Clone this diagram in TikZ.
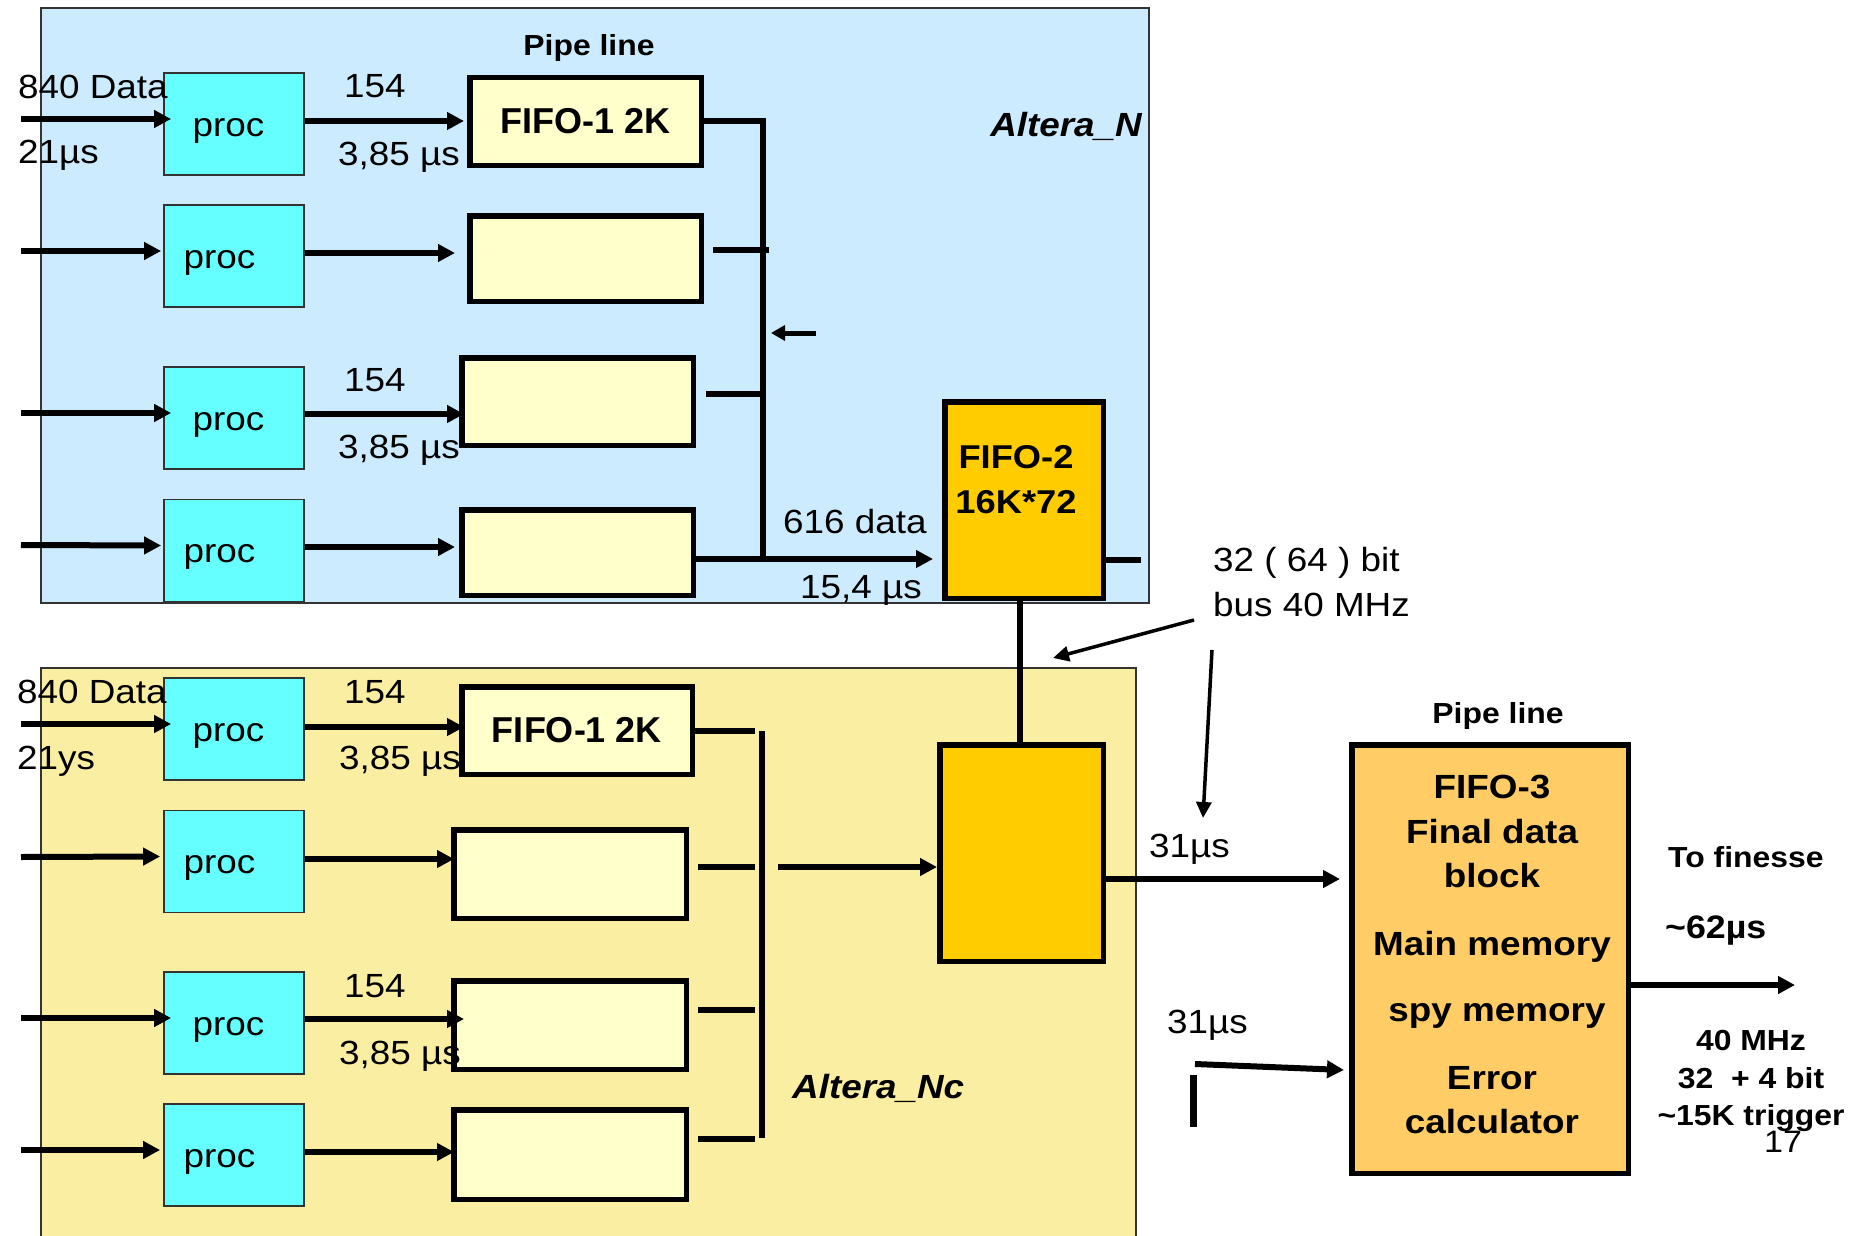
\documentclass[tikz,border=0pt]{standalone}
\usepackage{fontspec}
\setmainfont{Liberation Sans}[FakeStretch=1.1]
\newfontfamily\narrowfont{Liberation Sans}
\usetikzlibrary{arrows.meta,calc}
\definecolor{panelNcol}{HTML}{CCEBFF}
\definecolor{panelNccol}{HTML}{FAEEA2}
\definecolor{proccol}{HTML}{66FFFF}
\definecolor{fifoonecol}{HTML}{FFFFCC}
\definecolor{fifotwocol}{HTML}{FFCC00}
\definecolor{fifothreecol}{HTML}{FFCC66}
\definecolor{edgecol}{HTML}{333333}
\newcommand{\myfs}[1]{\fontsize{#1}{#1}\selectfont}
\begin{document}
\begin{tikzpicture}[x=1pt,y=-1pt,
  panelbox/.style={draw=edgecol,line width=1.8pt,inner sep=0pt},
  procbox/.style={draw=edgecol,line width=1.8pt,fill=proccol,minimum width=140pt,minimum height=102pt,inner sep=0pt,text height=30pt,text depth=6pt,font=\myfs{33.5}},
  fifobox/.style={draw=black,line width=5.5pt,fill=fifoonecol,inner sep=0pt,font=\narrowfont\bfseries\myfs{36}},
  fifotwo/.style={draw=black,line width=5.5pt,fill=fifotwocol,inner sep=0pt},
  fifothree/.style={draw=black,line width=5.5pt,fill=fifothreecol,inner sep=0pt},
  lbl/.style={inner sep=0pt,anchor=base west,font=\myfs{33.5}},
  blbl/.style={inner sep=0pt,font=\bfseries\myfs{29}},
  bilbl/.style={inner sep=0pt,font=\bfseries\itshape\myfs{33.5}},
  arr/.style={line width=6pt,-{Triangle[length=17pt,width=17pt]}},
  thinarr/.style={line width=3.5pt,-{Triangle[length=16pt,width=15pt]}},
  smallarr/.style={line width=5pt,-{Triangle[length=14pt,width=15pt]}},
  busline/.style={line width=6pt},
  lbus/.style={line width=6pt}
]
\fill[white] (0,0) rectangle (1863,1236);
\useasboundingbox (0,0) rectangle (1863,1236);

% panels
\node[panelbox,fill=panelNcol,minimum width=1108pt,minimum height=595pt] (PN) at (595,305.5) {};
\node[panelbox,fill=panelNccol,minimum width=1095pt,minimum height=600pt] (PNc) at (588.5,968) {};

% upper proc boxes
\node[procbox] (p1) at (234,124) {proc\kern11pt};
\node[procbox] (p2) at (234,256) {proc\kern29pt};
\node[procbox] (p3) at (234,418) {proc\kern11pt};
\node[procbox] (p4) at (234,550.5) {proc\kern29pt};
% lower proc boxes
\node[procbox] (q1) at (234,729) {proc\kern11pt};
\node[procbox] (q2) at (234,861.5) {proc\kern29pt};
\node[procbox] (q3) at (234,1023) {proc\kern11pt};
\node[procbox] (q4) at (234,1155) {proc\kern29pt};

% upper FIFO-1 boxes
\node[fifobox,minimum width=231.5pt,minimum height=87.5pt] (f1) at (585.5,121.5) {FIFO-1 2K};
\node[fifobox,minimum width=231.5pt,minimum height=85.5pt] (f2) at (585.5,258.5) {};
\node[fifobox,minimum width=231.5pt,minimum height=87.5pt] (f3) at (577.5,401.5) {};
\node[fifobox,minimum width=231.5pt,minimum height=85.5pt] (f4) at (577.5,552.5) {};
% lower FIFO-1 boxes
\node[fifobox,minimum width=230.5pt,minimum height=87.5pt] (g1) at (577,730.5) {FIFO-1 2K};
\node[fifobox,minimum width=232.5pt,minimum height=88.5pt] (g2) at (570,874) {};
\node[fifobox,minimum width=232.5pt,minimum height=88.5pt] (g3) at (570,1025) {};
\node[fifobox,minimum width=232.5pt,minimum height=89.5pt] (g4) at (570,1154.5) {};

% FIFO-2 boxes and FIFO-3
\node[fifotwo,minimum width=158.5pt,minimum height=196.5pt] (F2) at (1024,500) {};
\node[fifotwo,minimum width=163.5pt,minimum height=216.5pt] (G) at (1021.5,853) {};
\node[fifothree,minimum width=276.5pt,minimum height=428.5pt] (F3) at (1490,959) {};

% coordinates
\coordinate (i1) at (21,119);
\coordinate (i2) at (21,251);
\coordinate (i3) at (21,413);
\coordinate (i4) at (21,545);
\coordinate (j1) at (21,724);
\coordinate (j2) at (21,857);
\coordinate (j3) at (21,1018);
\coordinate (j4) at (21,1150);
\coordinate (bb) at (763,559);
\coordinate (sa1) at (816,333);
\coordinate (sa2) at (771,333);
\coordinate (F2o) at (1141,560);
\coordinate (lbt) at (762,731);
\coordinate (lbb) at (762,1138);
\coordinate (lbs) at (778,867);
\coordinate (bl1) at (1194,620);
\coordinate (bl2) at (1053,658);
\coordinate (bl3) at (1212,650);
\coordinate (bl4) at (1203,818);
\coordinate (vb1) at (1193,1075);
\coordinate (vb2) at (1193,1127);
\coordinate (ta) at (1195,1064);
\coordinate (fo) at (1795,985);

% input arrows
\draw[arr] (i1) -- ($(p1.west)+(8,-5)$);
\draw[arr] (i2) -- ($(p2.west)+(-2,-5)$);
\draw[arr] (i3) -- ($(p3.west)+(8,-5)$);
\draw[arr] (i4) -- ($(p4.west)+(-2,-5)$);
\draw[arr] (j1) -- ($(q1.west)+(8,-5)$);
\draw[arr] (j2) -- ($(q2.west)+(-3,-5)$);
\draw[arr] (j3) -- ($(q3.west)+(8,-5)$);
\draw[arr] (j4) -- ($(q4.west)+(-3,-5)$);

% proc -> FIFO-1
\draw[arr] ($(p1.east)+(0,-3)$) -- ($(p1.east -| f1.west)+(-3,-3)$);
\draw[arr] ($(p2.east)+(0,-3)$) -- ($(p2.east -| f2.west)+(-12,-3)$);
\draw[arr] ($(p3.east)+(0,-4)$) -- ($(p3.east -| f3.west)+(5,-4)$);
\draw[arr] ($(p4.east)+(0,-3.5)$) -- ($(p4.east -| f4.west)+(-4,-3.5)$);
\draw[arr] ($(q1.east)+(0,-2)$) -- ($(q1.east -| g1.west)+(5,-2)$);
\draw[arr] ($(q2.east)+(0,-2.5)$) -- ($(q2.east -| g2.west)+(3,-2.5)$);
\draw[arr] ($(q3.east)+(0,-4)$) -- ($(q3.east -| g3.west)+(13,-4)$);
\draw[arr] ($(q4.east)+(0,-3)$) -- ($(q4.east -| g4.west)+(3,-3)$);

% upper bus
\draw[busline] (f1.east) -| (bb);
\draw[busline] ($(f2.east)+(9,-8.5)$) -- ($(f2.east -| bb)+(6,-8.5)$);
\draw[busline] ($(f3.east)+(10,-8)$) -- ($(f3.east -| bb)+(0,-8)$);
\draw[arr] (f4.east |- bb) -- ($(bb -| F2.west)+(-9,0)$);
\draw[smallarr] (sa1) -- (sa2);
\draw[busline] (F2.east |- F2o) -- (F2o);
\draw[line width=5.5pt] ($(F2.south)+(-4,0)$) -- ($(F2.south |- G.north)+(-4,0)$);

% lower bus
\draw[lbus] (lbt) -- (lbb);
\draw[lbus] (g1.east) -- ($(g1.east -| lbt)+(-7,0)$);
\draw[lbus] ($(g2.east)+(9,-7)$) -- ($(g2.east -| lbt)+(-7,-7)$);
\draw[lbus] ($(g3.east)+(9,-15)$) -- ($(g3.east -| lbt)+(-7,-15)$);
\draw[lbus] ($(g4.east)+(9,-15.5)$) -- ($(g4.east -| lbt)+(-7,-15.5)$);
\draw[arr] (lbs) -- (lbs -| G.west);

% to FIFO-3 and out
\draw[arr] ($(G.east)+(0,26)$) -- ($(G.east -| F3.west)+(-9,26)$);
\draw[thinarr] (bl1) -- (bl2);
\draw[thinarr] (bl3) -- (bl4);
\draw[line width=7pt] (vb1) -- (vb2);
\draw[arr] (ta) -- ($(F3.west)+(-5,111)$);
\draw[arr] ($(F3.east)+(0,26)$) -- (fo);

% text in FIFO-2 and FIFO-3
\node[blbl,anchor=base,font=\bfseries\myfs{33}] (F2ta) at (1016,468) {FIFO-2};
\node[blbl,anchor=base,font=\bfseries\myfs{33}] (F2tb) at (1016,513) {16K*72};
\node[blbl,anchor=base,font=\bfseries\myfs{33.5}] (ft1) at (1492,798) {FIFO-3};
\node[blbl,anchor=base,font=\bfseries\myfs{33.5}] (ft2) at (1492,843) {Final data};
\node[blbl,anchor=base,font=\bfseries\myfs{33.5}] (ft3) at (1492,887) {block};
\node[blbl,anchor=base,font=\bfseries\myfs{33.5}] (ft4) at (1492,955) {Main memory};
\node[blbl,anchor=base,font=\bfseries\myfs{33.5}] (ft5) at (1497,1021) {spy memory};
\node[blbl,anchor=base,font=\bfseries\myfs{33.5}] (ft6) at (1492,1089) {Error};
\node[blbl,anchor=base,font=\bfseries\myfs{33.5}] (ft7) at (1492,1133) {calculator};

% labels upper
\node[lbl] (t840a) at (18,99) {840 Data};
\node[lbl] (t21a) at (18,164) {21µs};
\node[lbl] (t154a) at (344,98) {154};
\node[lbl] (t385a) at (338,165) {3,85 µs};
\node[lbl] (t154b) at (344,391) {154};
\node[lbl] (t385b) at (338,458) {3,85 µs};
\node[lbl] (t616) at (783,533) {616 data};
\node[lbl] (t154s) at (800,598) {15,4 µs};
\node[lbl] (tbus1) at (1213,571) {32 ( 64 ) bit};
\node[lbl] (tbus2) at (1213,616) {bus 40 MHz};
\node[blbl,anchor=base] (pipe1) at (589,56) {Pipe line};
\node[bilbl,anchor=base east] (altN) at (1142,136) {Altera\_N};

% labels lower
\node[lbl] (t840b) at (17,703) {840 Data};
\node[lbl] (t21b) at (17,769) {21ys};
\node[lbl] (t154c) at (344,703) {154};
\node[lbl] (t385c) at (339,769) {3,85 µs};
\node[lbl] (t154d) at (344,997) {154};
\node[lbl] (t385d) at (339,1064) {3,85 µs};
\node[bilbl,anchor=base west] (altNc) at (792,1098) {Altera\_Nc};
\node[lbl] (t31a) at (1149,857) {31µs};
\node[lbl] (t31b) at (1167,1033) {31µs};
\node[blbl,anchor=base] (pipe2) at (1498,723) {Pipe line};
\node[blbl,anchor=base west] (tofin) at (1668,867) {To finesse};
\node[blbl,anchor=base west,font=\bfseries\myfs{32.5}] (t62) at (1665,938) {\textasciitilde62µs};
\node[blbl,anchor=base] (tmhz) at (1751,1050) {40 MHz};
\node[blbl,anchor=base] (tbit) at (1751,1088) {32\ \ + 4 bit};
\node[blbl,anchor=base] (ttrig) at (1751,1125) {\textasciitilde15K trigger};
\node[lbl,font=\myfs{31}] (t17) at (1764,1152) {17};
\end{tikzpicture}
\end{document}
